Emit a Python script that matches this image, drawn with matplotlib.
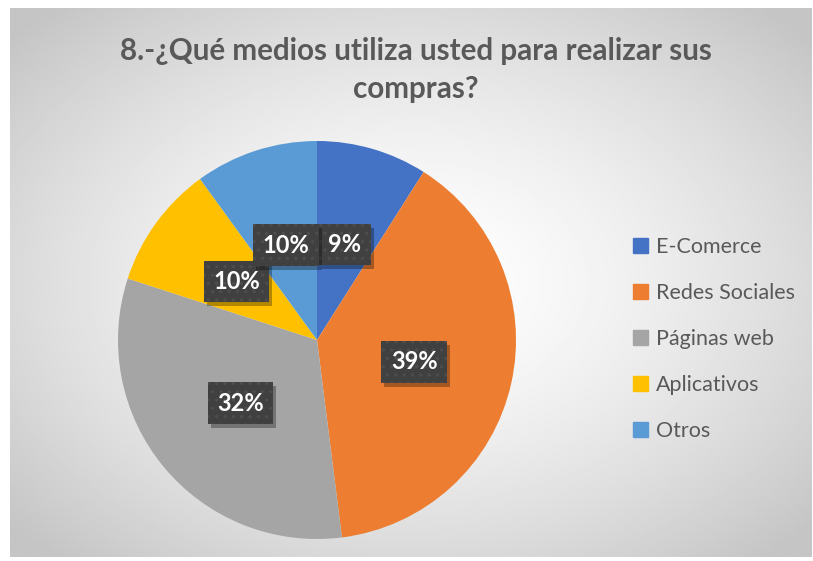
import numpy as np
import matplotlib
matplotlib.use("Agg")
import matplotlib.pyplot as plt
import matplotlib.transforms as mtransforms

categories = ["E-Comerce", "Redes Sociales", "Páginas web", "Aplicativos", "Otros"]
values = [9, 39, 32, 10, 10]
colors = ["#4472c4", "#ed7d31", "#a5a5a5", "#ffc000", "#5b9bd5"]
title = "8.-¿Qué medios utiliza usted para realizar sus\ncompras?"

plt.rcParams["font.family"] = ["Lato", "DejaVu Sans"]
plt.rcParams["hatch.linewidth"] = 1.2

W, H = 813, 561
fig = plt.figure(figsize=(W / 100, H / 100), dpi=100)
fig.patch.set_facecolor("white")

# radial gradient background of the chart area
bg = fig.add_axes([10 / W, 1 - 557 / H, 801 / W, 549 / H])
yy, xx = np.mgrid[-1:1:300j, -1:1:440j]
r = np.sqrt(xx ** 2 + yy ** 2) / np.sqrt(2)
shade = 1.0 - 0.23 * np.clip(r * 1.05, 0, 1) ** 1.5
bg.imshow(shade, cmap="gray", vmin=0, vmax=1, aspect="auto", extent=[0, 1, 0, 1])
bg.set_axis_off()

# pie
cx, cy, rad = 317, 340, 199
ax = fig.add_axes([(cx - rad) / W, (H - cy - rad) / H, 2 * rad / W, 2 * rad / H])
wedges, _ = ax.pie(values, colors=colors, startangle=90, counterclock=False,
                   radius=1.0, wedgeprops=dict(linewidth=0))
ax.set_xlim(-1, 1)
ax.set_ylim(-1, 1)
ax.set_aspect("equal")
ax.set_axis_off()

total = sum(values)
start = 90.0
for v in values:
    mid = np.deg2rad(start - 360.0 * v / total / 2)
    start -= 360.0 * v / total
    x, y = 0.5 * np.cos(mid), 0.5 * np.sin(mid)
    label = f"{v}%"
    shadow_tr = mtransforms.offset_copy(ax.transData, fig=fig, x=3, y=-4, units="dots")
    ax.text(x, y, label, transform=shadow_tr, ha="center", va="center",
            fontsize=17, fontweight="bold", color=(0, 0, 0, 0),
            bbox=dict(boxstyle="square,pad=0.4", facecolor="black", alpha=0.3,
                      linewidth=0))
    ax.text(x, y, label, ha="center", va="center", fontsize=17,
            fontweight="bold", color="white",
            bbox=dict(boxstyle="square,pad=0.4", facecolor="#404040",
                      edgecolor="#4d4d4d", hatch="..", linewidth=0))

fig.text(0.5 * (10 + 811) / W + 5 / W, 1 - 70 / H, title, ha="center", va="center",
         fontsize=21.3, fontweight="bold", color="#595959", linespacing=1.4)

handles = [plt.Rectangle((0, 0), 1, 1, color=c) for c in colors]
fig.legend(handles, categories, loc="center left",
           bbox_to_anchor=(614 / W, 1 - 339 / H), frameon=False,
           fontsize=15.5, labelcolor="#595959", handlelength=0.68,
           handleheight=0.68, handletextpad=0.35, labelspacing=1.2)

fig.savefig("out.png", dpi=100)
